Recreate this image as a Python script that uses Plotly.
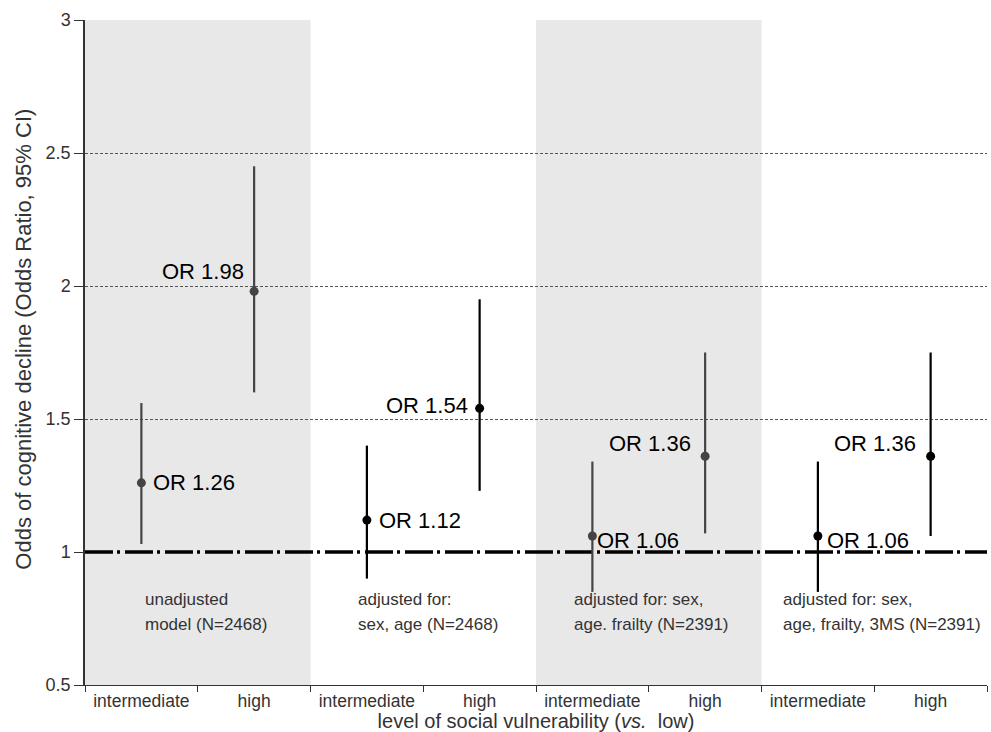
import plotly.graph_objects as go

# Odds ratios of cognitive decline by level of social vulnerability (vs. low)
categories = ["intermediate", "high"] * 4
odds_ratio = [1.26, 1.98, 1.12, 1.54, 1.06, 1.36, 1.06, 1.36]
ci_low = [1.03, 1.60, 0.90, 1.23, 0.85, 1.07, 0.85, 1.06]
ci_high = [1.56, 2.45, 1.40, 1.95, 1.34, 1.75, 1.34, 1.75]
model_line1 = ["unadjusted", "adjusted for:", "adjusted for: sex,", "adjusted for: sex,"]
model_line2 = ["model (N=2468)", "sex, age (N=2468)", "age. frailty (N=2391)", "age, frailty, 3MS (N=2391)"]
y_ticks = [0.5, 1, 1.5, 2, 2.5, 3]
y_tick_labels = ["0.5", "1", "1.5", "2", "2.5", "3"]
reference_or = 1.0

FONT = "Liberation Sans, Arial, sans-serif"
GRAY = "#444444"
TEXT = "#333333"
group_colors = [GRAY, "black", GRAY, "black"]

n = len(categories)
xpos = [i + 0.5 for i in range(n)]

fig = go.Figure()

# no-effect reference line
fig.add_trace(go.Scatter(
    x=[0, n], y=[reference_or, reference_or], mode="lines",
    line=dict(color="black", width=3.5, dash="28px,4px,3px,5px"),
    hoverinfo="skip", showlegend=False,
))

# point estimates with 95% CI, one trace per model
for g in range(4):
    idx = [2 * g, 2 * g + 1]
    fig.add_trace(go.Scatter(
        x=[xpos[i] for i in idx],
        y=[odds_ratio[i] for i in idx],
        mode="markers",
        marker=dict(color=group_colors[g], size=9),
        error_y=dict(
            type="data", symmetric=False,
            array=[ci_high[i] - odds_ratio[i] for i in idx],
            arrayminus=[odds_ratio[i] - ci_low[i] for i in idx],
            color=group_colors[g], thickness=2.2, width=0,
        ),
        showlegend=False,
    ))

# shaded bands for alternate models
for g in (0, 2):
    fig.add_shape(type="rect", xref="x", yref="paper", x0=2 * g, x1=2 * g + 2,
                  y0=0, y1=1, fillcolor="#e8e8e8", line_width=0, layer="below")

# OR labels
label_style = [  # (anchor side, xshift, yshift)
    ("left", 10, 0), ("right", -8, 20),
    ("left", 10, 0), ("right", -10, 3),
    ("left", 3, -4), ("right", -12, 13),
    ("left", 7, -4), ("right", -13, 13),
]
for i in range(n):
    side, dx, dy = label_style[i]
    fig.add_annotation(
        x=xpos[i], y=odds_ratio[i], xref="x", yref="y",
        text=f"OR {odds_ratio[i]:.2f}", showarrow=False,
        xanchor=side, yanchor="middle", xshift=dx, yshift=dy,
        font=dict(family=FONT, size=22, color="black"),
    )

# model descriptions
text_x = [0.515, 2.40, 4.32, 6.17]
for g in range(4):
    for line, yv in ((model_line1[g], 0.82), (model_line2[g], 0.726)):
        fig.add_annotation(
            x=text_x[g], y=yv, xref="x", yref="y", text=line, showarrow=False,
            xanchor="left", yanchor="middle",
            font=dict(family=FONT, size=17, color=TEXT),
        )

# y-axis title
fig.add_annotation(
    x=-0.0682, y=0.520, xref="paper", yref="paper",
    text="Odds of cognitive decline (Odds Ratio, 95% CI)",
    showarrow=False, textangle=-90, xanchor="center", yanchor="middle",
    font=dict(family=FONT, size=22, color=TEXT),
)

fig.update_layout(
    width=991, height=732,
    margin=dict(l=85, r=4, t=20, b=47),
    plot_bgcolor="white", paper_bgcolor="white",
    font=dict(family=FONT, color=TEXT),
    showlegend=False,
    xaxis=dict(
        range=[0, n], tickmode="array", tickvals=xpos, ticktext=categories,
        ticks="", showgrid=False, zeroline=False,
        showline=True, linecolor=TEXT, linewidth=1.2,
        tickfont=dict(size=17.5, color=TEXT),
        minor=dict(tickmode="array", tickvals=list(range(n + 1)), ticks="outside",
                   ticklen=6, tickcolor=TEXT, showgrid=False),
        title=dict(text="level of social vulnerability (<i>vs.</i>  low)",
                   font=dict(size=20, color=TEXT), standoff=0),
    ),
    yaxis=dict(
        range=[0.5, 3], tickmode="array", tickvals=y_ticks, ticktext=y_tick_labels,
        ticks="outside", ticklen=9, tickcolor=TEXT,
        showgrid=False, zeroline=False,
        showline=True, linecolor=TEXT, linewidth=1.5,
        tickfont=dict(size=18, color=TEXT),
        minor=dict(tickmode="array", tickvals=[1.5, 2, 2.5, 3], ticks="",
                   showgrid=True, gridcolor="#555555", gridwidth=1, griddash="3px,2px"),
    ),
)

fig.write_html("out.html")
